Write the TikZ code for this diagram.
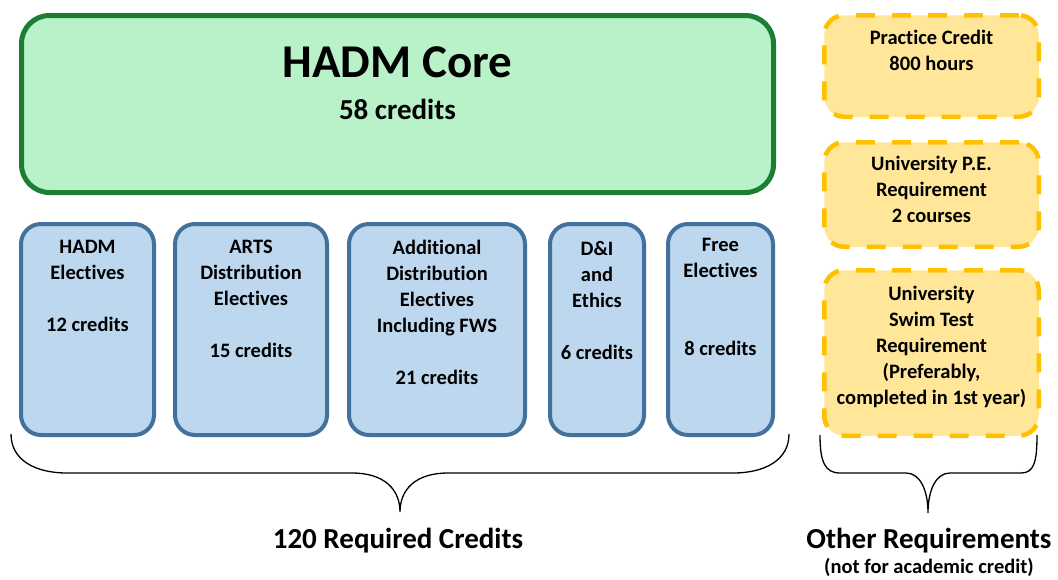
\documentclass[tikz,border=0pt]{standalone}
\usepackage{fontspec}
\setmainfont{Carlito}[Ligatures={NoCommon,NoRare,NoDiscretionary}]
\definecolor{gfill}{HTML}{B9F2C9}
\definecolor{gline}{HTML}{1C7E33}
\definecolor{bfill}{HTML}{BDD7EE}
\definecolor{bline}{HTML}{41719C}
\definecolor{yfill}{HTML}{FFE699}
\definecolor{yline}{HTML}{FFC000}
\tikzset{
  corebox/.style={draw=gline, fill=gfill, line width=5pt, rounded corners=28pt, minimum width=752pt, minimum height=177pt, inner sep=0pt},
  bluebox/.style={draw=bline, fill=bfill, line width=4pt, rounded corners=20pt, minimum height=211pt, inner sep=0pt},
  yelbox/.style={draw=yline, fill=yfill, line width=4.5pt, dash pattern=on 19pt off 17pt, rounded corners=20pt, minimum width=214.5pt, inner sep=0pt},
  boxtext/.style={align=center, inner sep=0pt, anchor=north, font={\fontsize{20.5}{26}\selectfont\bfseries}},
  bigtext/.style={inner sep=0pt, anchor=base, font={\fontsize{29}{35}\selectfont\bfseries}},
  smalltext/.style={inner sep=0pt, anchor=base, font={\fontsize{20.5}{26}\selectfont\bfseries}},
  bracepath/.style={draw=black, line width=1.3pt}
}
\begin{document}
\begin{tikzpicture}[x=1pt, y=-1pt]
\useasboundingbox (0,0) rectangle (1058,579);
% core
\node[corebox] (core) at (397.5,104) {};
\node[inner sep=0pt, anchor=base, font={\fontsize{47}{50}\selectfont\bfseries}] (coretitle) at (397.5,77) {HADM Core};
\node[bigtext] (corecred) at (397.5,119) {58 credits};
% blue boxes
\node[bluebox, minimum width=133pt] (b1) at (87.5,329.5) {};
\node[bluebox, minimum width=152pt] (b2) at (251,329.5) {};
\node[bluebox, minimum width=176pt] (b3) at (437,329.5) {};
\node[bluebox, minimum width=94pt] (b4) at (597,329.5) {};
\node[bluebox, minimum width=105pt] (b5) at (720.5,329.5) {};
\node[boxtext] (t1) at (87.5,240) {HADM\\Electives\\[26pt]12 credits};
\node[boxtext] (t2) at (251,240) {ARTS\\Distribution\\Electives\\[26pt]15 credits};
\node[boxtext] (t3) at (437,240) {Additional\\Distribution\\Electives\\Including FWS\\[26pt]21 credits};
\node[boxtext] (t4) at (597,241) {D\&I\\and\\Ethics\\[26pt]6 credits};
\node[boxtext] (t5) at (720.5,238) {Free\\Electives\\[52pt]8 credits};
% yellow boxes
\node[yelbox, minimum height=101.5pt] (y1) at (931.5,66) {};
\node[yelbox, minimum height=104.5pt] (y2) at (931.5,194.5) {};
\node[yelbox, minimum height=165.5pt] (y3) at (931.5,353) {};
\node[boxtext] (yt1) at (931.5,30) {Practice Credit\\800 hours};
\node[boxtext] (yt2) at (931.5,156) {University P.E.\\Requirement\\2 courses};
\node[boxtext] (yt3) at (931.5,286) {University\\Swim Test\\Requirement\\(Preferably,\\completed in 1st year)};
% braces
\draw[bracepath] (11,434) .. controls (11,460) and (35,473) .. (67,473) -- (352,473)
  .. controls (385,473) and (400,490) .. (400,512)
  .. controls (400,490) and (415,473) .. (448,473) -- (733,473)
  .. controls (765,473) and (789,460) .. (789,434);
\draw[bracepath] (820,435) .. controls (820,462) and (825,473) .. (840,473) -- (906,473)
  .. controls (920,473) and (928,490) .. (928,513)
  .. controls (928,490) and (936,473) .. (950,473) -- (1021,473)
  .. controls (1034,473) and (1037,462) .. (1037,435);
% labels
\node[bigtext] (req) at (398,548) {120 Required Credits};
\node[bigtext] (other) at (929,548) {Other Requirements};
\node[smalltext] (notfor) at (929,573) {(not for academic credit)};
\end{tikzpicture}
\end{document}
